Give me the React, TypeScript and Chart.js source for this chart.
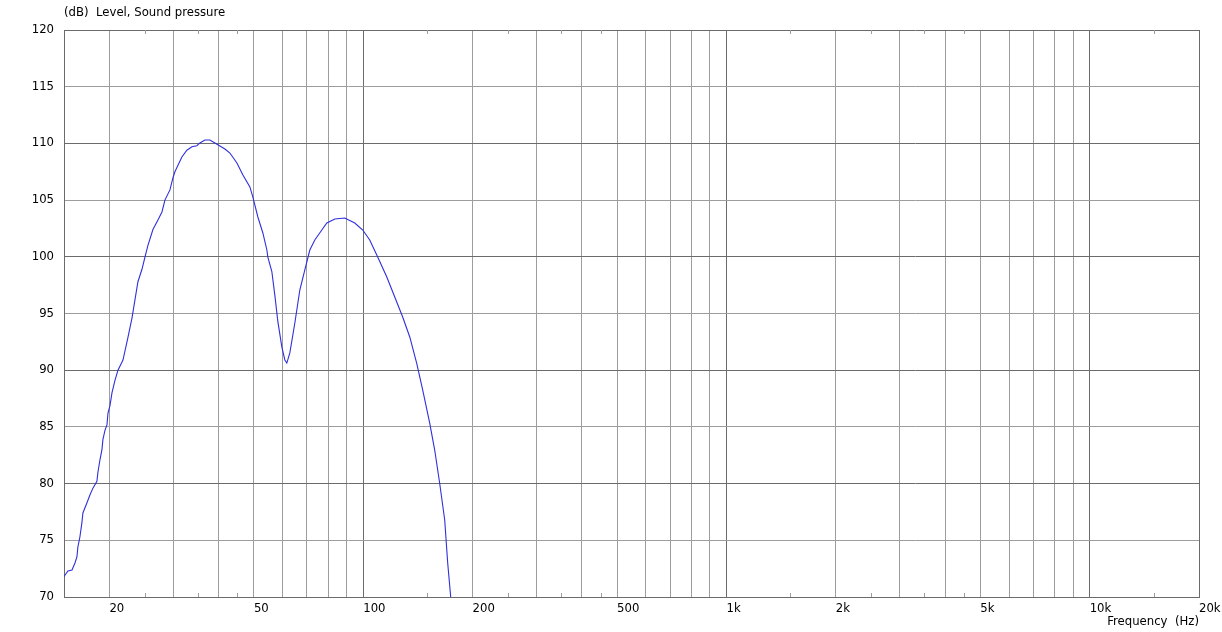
import React, { useEffect, useRef } from 'react';
import { Chart, registerables } from 'chart.js';

Chart.register(...registerables);

// ---- data ----
const freqHz = [
  15.0, 15.1, 15.38, 15.78, 16.08, 16.28, 16.38, 16.59, 16.8, 16.91, 17.34, 17.68, 18.02, 18.48, 18.6,
  18.84, 19.08, 19.2, 19.45, 19.7, 19.82, 20.08, 20.33, 20.72, 21.12, 21.8, 22.5, 23.08, 23.52, 23.97,
  24.59, 25.06, 25.54, 26.36, 27.21, 27.91, 28.44, 29.36, 29.92, 30.3, 31.67, 32.69, 33.75, 34.83,
  35.5, 36.65, 37.83, 39.05, 40.3, 41.6, 42.94, 44.89, 46.63, 48.74, 49.67, 51.27, 52.92, 54.28,
  54.62, 56.02, 57.1, 58.19, 59.68, 60.83, 61.6, 62.79, 64.81, 66.89, 69.05, 71.27, 73.56, 76.9,
  79.37, 83.5, 88.95, 94.76, 99.69, 104.2, 109.6, 116.1, 122.1, 128.4, 134.3, 140.3, 145.8, 152.4,
  157.3, 162.3, 167.6, 170.8, 174.1, 176.0,
];
const levelDb = [
  71.8, 71.94, 72.29, 72.38, 73.0, 73.53, 74.41, 75.29, 76.53, 77.41, 78.29, 79.0, 79.6, 80.2, 81.0,
  82.1, 83.0, 83.9, 84.7, 85.2, 86.2, 86.9, 88.0, 89.1, 90.0, 90.9, 92.9, 94.6, 96.2, 97.8,
  98.9, 99.98, 101.0, 102.4, 103.25, 103.95, 105.0, 105.9, 106.95, 107.5, 108.8, 109.4, 109.7, 109.8,
  110.04, 110.3, 110.3, 110.04, 109.77, 109.51, 109.15, 108.27, 107.21, 106.16, 105.27, 103.51, 102.1, 100.6,
  99.98, 98.7, 96.6, 94.3, 92.05, 90.9, 90.63, 91.52, 94.16, 97.07, 98.84, 100.6, 101.48, 102.36,
  102.98, 103.33, 103.42, 102.98, 102.36, 101.48, 99.98, 98.22, 96.46, 94.69, 92.93, 90.63, 88.25, 85.34,
  82.96, 80.05, 76.79, 73.0, 70.0, 68.5,
];

const xGridValues = [
  20, 30, 40, 50, 60, 70, 80, 90,
  100, 200, 300, 400, 500, 600, 700, 800, 900,
  1000, 2000, 3000, 4000, 5000, 6000, 7000, 8000, 9000,
  10000, 20000,
];
const xMajorValues = [100, 1000, 10000, 20000];
const xLabels: Record<number, string> = {
  20: '20', 50: '50', 100: '100', 200: '200', 500: '500',
  1000: '1k', 2000: '2k', 5000: '5k', 10000: '10k', 20000: '20k',
};
const xMinorTicks = [25, 35, 45, 150, 250, 350, 450, 1500, 2500, 3500, 4500, 15000];
const yTickValues = [70, 75, 80, 85, 90, 95, 100, 105, 110, 115, 120];

const yTitle = '(dB)  Level, Sound pressure';
const xTitle = 'Frequency  (Hz)';

const DARK = '#6b6b6b';
const LIGHT = '#9d9d9d';
const LINE = '#2f2fdc';
const FONT = 'DejaVu Sans';
const FSIZE = 11.7;

const overlayPlugin = {
  id: 'overlayText',
  afterDraw(chart: any) {
    const { ctx, chartArea, scales } = chart;
    const xs = scales.x;
    ctx.save();
    ctx.strokeStyle = LIGHT;
    ctx.lineWidth = 1;
    ctx.beginPath();
    for (const v of xMinorTicks) {
      const px = Math.round(xs.getPixelForValue(v)) + 0.5;
      ctx.moveTo(px, chartArea.bottom);
      ctx.lineTo(px, chartArea.bottom - 4);
      ctx.moveTo(px, chartArea.top);
      ctx.lineTo(px, chartArea.top + 4);
    }
    ctx.stroke();
    ctx.fillStyle = '#000';
    ctx.font = `${FSIZE}px "${FONT}"`;
    ctx.textAlign = 'left';
    ctx.textBaseline = 'middle';
    ctx.fillText(yTitle, chartArea.left, 13);
    ctx.restore();
  },
};

export default function App() {
  const ref = useRef<HTMLCanvasElement | null>(null);

  useEffect(() => {
    if (!ref.current) return;
    const points = freqHz.map((f, i) => ({ x: f, y: levelDb[i] }));
    const chart = new Chart(ref.current, {
      type: 'line',
      data: {
        datasets: [
          {
            data: points,
            borderColor: LINE,
            borderWidth: 1.1,
            pointRadius: 0,
            tension: 0,
            fill: false,
          },
        ],
      },
      options: {
        animation: false,
        responsive: false,
        layout: { padding: { top: 30, right: 23, left: 0, bottom: 0 } },
        plugins: { legend: { display: false }, tooltip: { enabled: false }, title: { display: false } },
        scales: {
          x: {
            type: 'logarithmic',
            min: 15,
            max: 20000,
            afterBuildTicks: (scale: any) => {
              scale.ticks = xGridValues.map((v) => ({ value: v }));
            },
            afterFit: (scale: any) => {
              scale.height = 35;
              scale.paddingRight = 0;
              scale.paddingLeft = 0;
            },
            ticks: {
              autoSkip: false,
              maxRotation: 0,
              minRotation: 0,
              align: 'start',
              padding: 5,
              color: '#000',
              font: { family: FONT, size: FSIZE },
              callback: (value: any) => xLabels[Number(value)] ?? '',
            },
            grid: {
              drawTicks: false,
              color: (ctx: any) => (ctx.tick && xMajorValues.includes(ctx.tick.value) ? DARK : LIGHT),
            },
            border: { color: DARK },
            title: {
              display: true,
              text: xTitle,
              align: 'end',
              color: '#000',
              font: { family: FONT, size: FSIZE },
              padding: { top: 0, bottom: 3 },
            },
          },
          y: {
            type: 'linear',
            min: 70,
            max: 120,
            afterBuildTicks: (scale: any) => {
              scale.ticks = yTickValues.map((v) => ({ value: v }));
            },
            afterFit: (scale: any) => {
              scale.width = 64;
            },
            ticks: {
              padding: 10,
              color: '#000',
              font: { family: FONT, size: FSIZE },
              callback: (value: any) => String(value),
            },
            grid: {
              drawTicks: false,
              color: (ctx: any) => (ctx.tick && ctx.tick.value % 10 === 0 ? DARK : LIGHT),
            },
            border: { color: DARK },
          },
        },
      } as any,
      plugins: [overlayPlugin],
    });
    return () => chart.destroy();
  }, []);

  return (
    <div style={{ position: 'absolute', left: 0, top: 0, width: 1222, height: 632, background: '#fff' }}>
      <canvas ref={ref} width={1222} height={632} style={{ display: 'block' }} />
    </div>
  );
}
